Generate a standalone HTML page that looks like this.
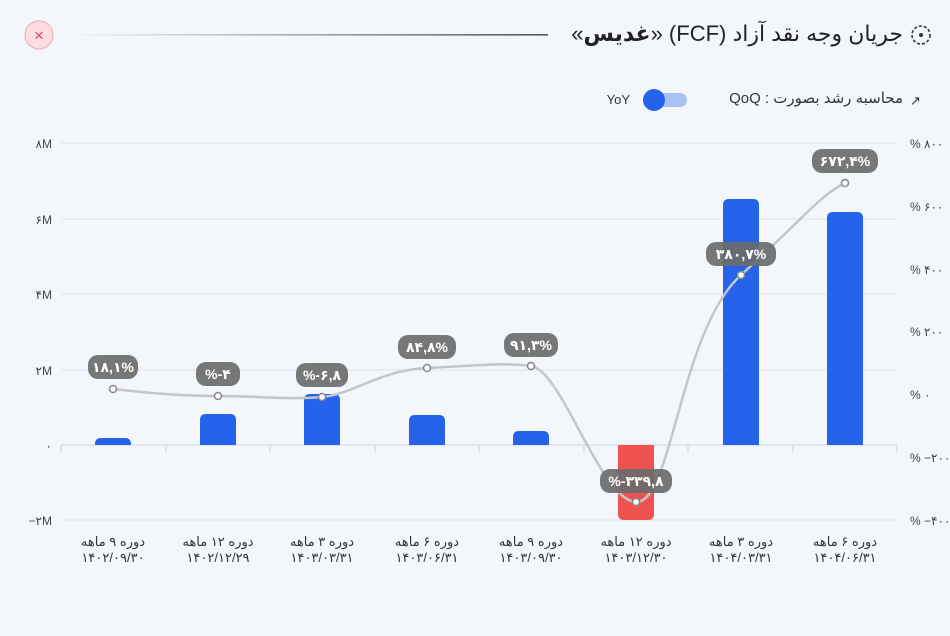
<!DOCTYPE html>
<html><head><meta charset="utf-8"><style>
body{margin:0;background:#f3f6fb;width:950px;height:636px;overflow:hidden;font-family:"Liberation Sans","DejaVu Sans",sans-serif;position:relative}
.t{position:absolute;direction:rtl;white-space:nowrap;color:#222}
</style></head><body>
<div class="t" style="right:47px;top:21px;font-size:22px;">جریان وجه نقد آزاد (FCF) «<b>غدیس</b>»</div>
<div class="t" style="right:47px;top:89px;font-size:15px;color:#333">محاسبه رشد بصورت : QoQ</div>
<svg width="950" height="636" xmlns="http://www.w3.org/2000/svg" font-family="Liberation Sans, DejaVu Sans, sans-serif" style="position:absolute;left:0;top:0">
<defs><linearGradient id="hl" gradientUnits="userSpaceOnUse" x1="70" y1="0" x2="548" y2="0"><stop offset="0" stop-color="#f3f6fb"/><stop offset="1" stop-color="#555"/></linearGradient></defs>
<circle cx="39" cy="35" r="14" fill="#fbdde2" stroke="#f2a7b3"/>
<text x="39" y="41" font-size="17" fill="#e0485f" text-anchor="middle">×</text>
<rect x="70" y="34" width="478" height="1.6" fill="url(#hl)"/>
<circle cx="921" cy="35" r="9" fill="none" stroke="#333" stroke-width="1.6" stroke-dasharray="3 2"/>
<circle cx="921" cy="35" r="2" fill="#333"/>
<text x="910" y="105" font-size="13" fill="#333">↗</text>
<rect x="645" y="93" width="42" height="14" rx="7" fill="#a9c0f2"/>
<circle cx="654" cy="100" r="11" fill="#2563eb"/>
<text x="630" y="104" font-size="13" fill="#333" text-anchor="end">YoY</text>
<g stroke="#dfe3ea" stroke-width="1">
<line x1="61" y1="143" x2="897" y2="143"/><line x1="61" y1="219" x2="897" y2="219"/><line x1="61" y1="294" x2="897" y2="294"/><line x1="61" y1="370" x2="897" y2="370"/><line x1="61" y1="520" x2="897" y2="520"/>
</g>
<line x1="61" y1="445" x2="897" y2="445" stroke="#cfd4dc"/>
<g stroke="#cfd4dc"><line x1="61" y1="445" x2="61" y2="453"/><line x1="166" y1="445" x2="166" y2="453"/><line x1="270" y1="445" x2="270" y2="453"/><line x1="375" y1="445" x2="375" y2="453"/><line x1="479" y1="445" x2="479" y2="453"/><line x1="584" y1="445" x2="584" y2="453"/><line x1="688" y1="445" x2="688" y2="453"/><line x1="793" y1="445" x2="793" y2="453"/><line x1="897" y1="445" x2="897" y2="453"/></g>
<g font-size="12" fill="#444" text-anchor="end" unicode-bidi="bidi-override" direction="ltr">
<text x="52" y="148">۸M</text><text x="52" y="224">۶M</text><text x="52" y="299">۴M</text><text x="52" y="375">۲M</text><text x="52" y="450">۰</text><text x="52" y="525">−۲M</text></g>
<g font-size="12" fill="#444" unicode-bidi="bidi-override" direction="ltr">
<text x="910" y="148">% ۸۰۰</text><text x="910" y="211">% ۶۰۰</text><text x="910" y="274">% ۴۰۰</text><text x="910" y="336">% ۲۰۰</text><text x="910" y="399">% ۰</text><text x="910" y="462">% −۲۰۰</text><text x="910" y="525">% −۴۰۰</text></g>
<g fill="#2563eb">
<path d="M95 445V444q0-6 6-6h24q6 0 6 6v1z"/>
<path d="M200 445V420q0-6 6-6h24q6 0 6 6v25z"/>
<path d="M304 445V400q0-6 6-6h24q6 0 6 6v45z"/>
<path d="M409 445V421q0-6 6-6h24q6 0 6 6v24z"/>
<path d="M513 445V437q0-6 6-6h24q6 0 6 6v8z"/>
<path d="M723 445V205q0-6 6-6h24q6 0 6 6v240z"/>
<path d="M827 445V218q0-6 6-6h24q6 0 6 6v227z"/>
</g>
<path d="M618 445V514q0 6 6 6h24q6 0 6-6V445z" fill="#ef5350"/>
<path d="M113 389C150 393 180 396 218 396S290 400 322 397S380 370 427 368S500 362 531 366S600 500 636 502S680 330 741 275S820 195 845 183" fill="none" stroke="#c4c6ca" stroke-width="2.5"/>
<g fill="#fff" stroke="#888" stroke-width="1.5">
<circle cx="113" cy="389" r="3.5"/><circle cx="218" cy="396" r="3.5"/><circle cx="322" cy="397" r="3.5"/><circle cx="427" cy="368" r="3.5"/><circle cx="531" cy="366" r="3.5"/><circle cx="636" cy="502" r="3.5"/><circle cx="741" cy="275" r="3.5"/><circle cx="845" cy="183" r="3.5"/></g>
<g fill="#6b6b6b" fill-opacity="0.92">
<rect x="88" y="355" width="50" height="24" rx="10"/><rect x="196" y="362" width="44" height="24" rx="10"/><rect x="296" y="363" width="52" height="24" rx="10"/><rect x="398" y="335" width="58" height="24" rx="10"/><rect x="504" y="333" width="54" height="24" rx="10"/><rect x="600" y="469" width="72" height="24" rx="10"/><rect x="706" y="242" width="70" height="24" rx="10"/><rect x="812" y="149" width="66" height="24" rx="10"/></g>
<g font-size="14" font-weight="bold" fill="#fff" text-anchor="middle" unicode-bidi="bidi-override" direction="ltr">
<text x="113" y="372">۱۸,۱%</text><text x="218" y="379">%-۴</text><text x="322" y="380">%-۶,۸</text><text x="427" y="352">۸۴,۸%</text><text x="531" y="350">۹۱,۳%</text><text x="636" y="486">%-۳۳۹,۸</text><text x="741" y="259">۳۸۰,۷%</text><text x="845" y="166">۶۷۲,۴%</text></g>
<g font-size="13" fill="#333" text-anchor="middle">
<text x="113" y="546">دوره ۹ ماهه</text><text x="218" y="546">دوره ۱۲ ماهه</text><text x="322" y="546">دوره ۳ ماهه</text><text x="427" y="546">دوره ۶ ماهه</text><text x="531" y="546">دوره ۹ ماهه</text><text x="636" y="546">دوره ۱۲ ماهه</text><text x="741" y="546">دوره ۳ ماهه</text><text x="845" y="546">دوره ۶ ماهه</text></g>
<g font-size="13" fill="#333" text-anchor="middle" unicode-bidi="bidi-override" direction="ltr">
<text x="113" y="562">۱۴۰۲/۰۹/۳۰</text><text x="218" y="562">۱۴۰۲/۱۲/۲۹</text><text x="322" y="562">۱۴۰۳/۰۳/۳۱</text><text x="427" y="562">۱۴۰۳/۰۶/۳۱</text><text x="531" y="562">۱۴۰۳/۰۹/۳۰</text><text x="636" y="562">۱۴۰۳/۱۲/۳۰</text><text x="741" y="562">۱۴۰۴/۰۳/۳۱</text><text x="845" y="562">۱۴۰۴/۰۶/۳۱</text></g>
</svg>
</body></html>
